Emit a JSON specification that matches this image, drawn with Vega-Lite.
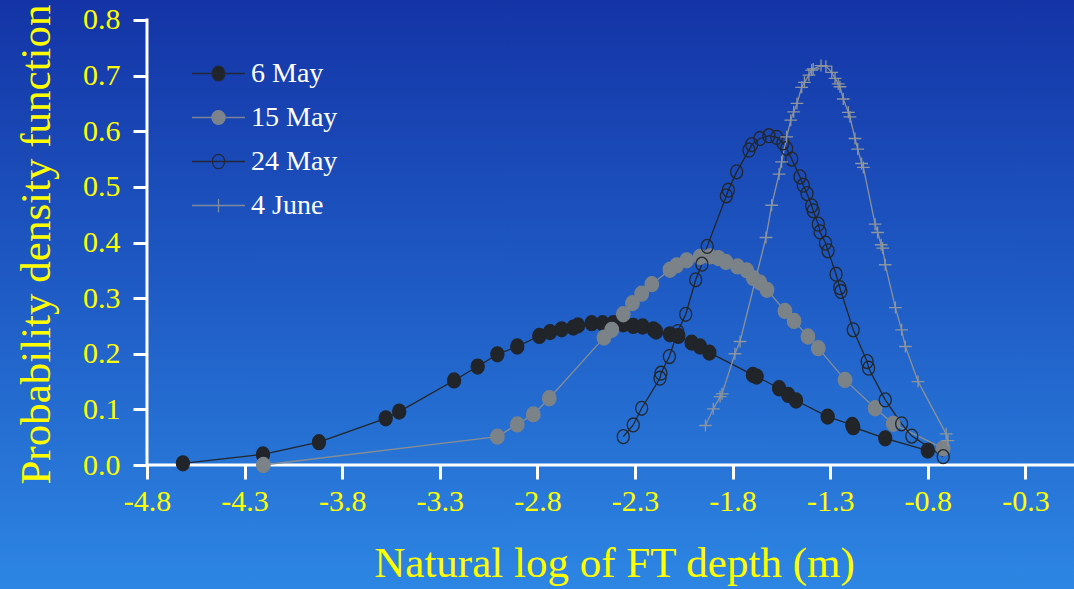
{
  "$schema": "https://vega.github.io/schema/vega-lite/v6.json",
  "width": 1074,
  "height": 589,
  "autosize": "none",
  "padding": 0,
  "background": "#2260c6",
  "config": {
    "view": {"stroke": null},
    "font": "Liberation Serif",
    "axis": {
      "grid": false,
      "domain": false
    },
    "legend": {"padding": 0}
  },
  "data": {
    "values": [
      {"series": "6 May", "x": -4.616, "y": 0.003},
      {"series": "6 May", "x": -4.206, "y": 0.019},
      {"series": "6 May", "x": -3.919, "y": 0.041},
      {"series": "6 May", "x": -3.577, "y": 0.084},
      {"series": "6 May", "x": -3.508, "y": 0.096},
      {"series": "6 May", "x": -3.227, "y": 0.152},
      {"series": "6 May", "x": -3.106, "y": 0.177},
      {"series": "6 May", "x": -3.005, "y": 0.199},
      {"series": "6 May", "x": -2.903, "y": 0.213},
      {"series": "6 May", "x": -2.79, "y": 0.232},
      {"series": "6 May", "x": -2.735, "y": 0.239},
      {"series": "6 May", "x": -2.676, "y": 0.244},
      {"series": "6 May", "x": -2.616, "y": 0.247},
      {"series": "6 May", "x": -2.592, "y": 0.251},
      {"series": "6 May", "x": -2.522, "y": 0.255},
      {"series": "6 May", "x": -2.466, "y": 0.255},
      {"series": "6 May", "x": -2.411, "y": 0.255},
      {"series": "6 May", "x": -2.36, "y": 0.253},
      {"series": "6 May", "x": -2.309, "y": 0.25},
      {"series": "6 May", "x": -2.261, "y": 0.249},
      {"series": "6 May", "x": -2.206, "y": 0.244},
      {"series": "6 May", "x": -2.192, "y": 0.24},
      {"series": "6 May", "x": -2.121, "y": 0.235},
      {"series": "6 May", "x": -2.078, "y": 0.232},
      {"series": "6 May", "x": -2.01, "y": 0.22},
      {"series": "6 May", "x": -1.967, "y": 0.213},
      {"series": "6 May", "x": -1.919, "y": 0.202},
      {"series": "6 May", "x": -1.696, "y": 0.162},
      {"series": "6 May", "x": -1.677, "y": 0.159},
      {"series": "6 May", "x": -1.562, "y": 0.138},
      {"series": "6 May", "x": -1.515, "y": 0.126},
      {"series": "6 May", "x": -1.475, "y": 0.116},
      {"series": "6 May", "x": -1.313, "y": 0.087},
      {"series": "6 May", "x": -1.187, "y": 0.072},
      {"series": "6 May", "x": -1.182, "y": 0.068},
      {"series": "6 May", "x": -1.018, "y": 0.048},
      {"series": "6 May", "x": -0.8, "y": 0.026},
      {"series": "15 May", "x": -4.204, "y": 0.0},
      {"series": "15 May", "x": -3.005, "y": 0.051},
      {"series": "15 May", "x": -2.903, "y": 0.073},
      {"series": "15 May", "x": -2.821, "y": 0.091},
      {"series": "15 May", "x": -2.739, "y": 0.12},
      {"series": "15 May", "x": -2.459, "y": 0.229},
      {"series": "15 May", "x": -2.419, "y": 0.243},
      {"series": "15 May", "x": -2.36, "y": 0.271},
      {"series": "15 May", "x": -2.313, "y": 0.291},
      {"series": "15 May", "x": -2.266, "y": 0.308},
      {"series": "15 May", "x": -2.214, "y": 0.325},
      {"series": "15 May", "x": -2.121, "y": 0.351},
      {"series": "15 May", "x": -2.086, "y": 0.359},
      {"series": "15 May", "x": -2.035, "y": 0.368},
      {"series": "15 May", "x": -1.967, "y": 0.374},
      {"series": "15 May", "x": -1.916, "y": 0.375},
      {"series": "15 May", "x": -1.873, "y": 0.372},
      {"series": "15 May", "x": -1.834, "y": 0.365},
      {"series": "15 May", "x": -1.775, "y": 0.357},
      {"series": "15 May", "x": -1.728, "y": 0.35},
      {"series": "15 May", "x": -1.694, "y": 0.336},
      {"series": "15 May", "x": -1.66, "y": 0.328},
      {"series": "15 May", "x": -1.624, "y": 0.315},
      {"series": "15 May", "x": -1.532, "y": 0.277},
      {"series": "15 May", "x": -1.485, "y": 0.259},
      {"series": "15 May", "x": -1.414, "y": 0.231},
      {"series": "15 May", "x": -1.361, "y": 0.21},
      {"series": "15 May", "x": -1.224, "y": 0.153},
      {"series": "15 May", "x": -1.07, "y": 0.102},
      {"series": "15 May", "x": -0.977, "y": 0.074},
      {"series": "15 May", "x": -0.721, "y": 0.03},
      {"series": "24 May", "x": -2.36, "y": 0.051},
      {"series": "24 May", "x": -2.309, "y": 0.072},
      {"series": "24 May", "x": -2.266, "y": 0.102},
      {"series": "24 May", "x": -2.172, "y": 0.156},
      {"series": "24 May", "x": -2.167, "y": 0.165},
      {"series": "24 May", "x": -2.124, "y": 0.195},
      {"series": "24 May", "x": -2.081, "y": 0.24},
      {"series": "24 May", "x": -2.04, "y": 0.271},
      {"series": "24 May", "x": -1.989, "y": 0.333},
      {"series": "24 May", "x": -1.957, "y": 0.361},
      {"series": "24 May", "x": -1.93, "y": 0.393},
      {"series": "24 May", "x": -1.832, "y": 0.484},
      {"series": "24 May", "x": -1.822, "y": 0.494},
      {"series": "24 May", "x": -1.779, "y": 0.527},
      {"series": "24 May", "x": -1.716, "y": 0.566},
      {"series": "24 May", "x": -1.702, "y": 0.576},
      {"series": "24 May", "x": -1.66, "y": 0.587},
      {"series": "24 May", "x": -1.614, "y": 0.592},
      {"series": "24 May", "x": -1.574, "y": 0.589},
      {"series": "24 May", "x": -1.542, "y": 0.579},
      {"series": "24 May", "x": -1.523, "y": 0.569},
      {"series": "24 May", "x": -1.497, "y": 0.55},
      {"series": "24 May", "x": -1.455, "y": 0.518},
      {"series": "24 May", "x": -1.438, "y": 0.503},
      {"series": "24 May", "x": -1.419, "y": 0.488},
      {"series": "24 May", "x": -1.395, "y": 0.466},
      {"series": "24 May", "x": -1.387, "y": 0.457},
      {"series": "24 May", "x": -1.361, "y": 0.433},
      {"series": "24 May", "x": -1.352, "y": 0.419},
      {"series": "24 May", "x": -1.324, "y": 0.399},
      {"series": "24 May", "x": -1.311, "y": 0.385},
      {"series": "24 May", "x": -1.27, "y": 0.343},
      {"series": "24 May", "x": -1.251, "y": 0.319},
      {"series": "24 May", "x": -1.245, "y": 0.312},
      {"series": "24 May", "x": -1.182, "y": 0.243},
      {"series": "24 May", "x": -1.111, "y": 0.186},
      {"series": "24 May", "x": -1.103, "y": 0.174},
      {"series": "24 May", "x": -1.018, "y": 0.117},
      {"series": "24 May", "x": -0.934, "y": 0.074},
      {"series": "24 May", "x": -0.882, "y": 0.052},
      {"series": "24 May", "x": -0.721, "y": 0.015},
      {"series": "4 June", "x": -1.939, "y": 0.071},
      {"series": "4 June", "x": -1.899, "y": 0.101},
      {"series": "4 June", "x": -1.864, "y": 0.123},
      {"series": "4 June", "x": -1.854, "y": 0.128},
      {"series": "4 June", "x": -1.788, "y": 0.2},
      {"series": "4 June", "x": -1.762, "y": 0.222},
      {"series": "4 June", "x": -1.629, "y": 0.409},
      {"series": "4 June", "x": -1.6, "y": 0.467},
      {"series": "4 June", "x": -1.562, "y": 0.523},
      {"series": "4 June", "x": -1.549, "y": 0.545},
      {"series": "4 June", "x": -1.523, "y": 0.59},
      {"series": "4 June", "x": -1.502, "y": 0.62},
      {"series": "4 June", "x": -1.487, "y": 0.635},
      {"series": "4 June", "x": -1.47, "y": 0.65},
      {"series": "4 June", "x": -1.446, "y": 0.679},
      {"series": "4 June", "x": -1.432, "y": 0.688},
      {"series": "4 June", "x": -1.409, "y": 0.701},
      {"series": "4 June", "x": -1.395, "y": 0.71},
      {"series": "4 June", "x": -1.387, "y": 0.712},
      {"series": "4 June", "x": -1.347, "y": 0.718},
      {"series": "4 June", "x": -1.322, "y": 0.717},
      {"series": "4 June", "x": -1.292, "y": 0.706},
      {"series": "4 June", "x": -1.275, "y": 0.695},
      {"series": "4 June", "x": -1.259, "y": 0.685},
      {"series": "4 June", "x": -1.25, "y": 0.68},
      {"series": "4 June", "x": -1.233, "y": 0.658},
      {"series": "4 June", "x": -1.207, "y": 0.634},
      {"series": "4 June", "x": -1.199, "y": 0.626},
      {"series": "4 June", "x": -1.173, "y": 0.587},
      {"series": "4 June", "x": -1.159, "y": 0.568},
      {"series": "4 June", "x": -1.139, "y": 0.542},
      {"series": "4 June", "x": -1.13, "y": 0.535},
      {"series": "4 June", "x": -1.07, "y": 0.433},
      {"series": "4 June", "x": -1.057, "y": 0.418},
      {"series": "4 June", "x": -1.039, "y": 0.396},
      {"series": "4 June", "x": -1.031, "y": 0.39},
      {"series": "4 June", "x": -1.018, "y": 0.36},
      {"series": "4 June", "x": -0.966, "y": 0.283},
      {"series": "4 June", "x": -0.934, "y": 0.243},
      {"series": "4 June", "x": -0.915, "y": 0.213},
      {"series": "4 June", "x": -0.85, "y": 0.15},
      {"series": "4 June", "x": -0.706, "y": 0.056},
      {"series": "4 June", "x": -0.697, "y": 0.044}
    ]
  },
  "resolve": {"scale": {"fill": "independent", "stroke": "independent", "shape": "independent"}},
  "layer": [
    {
      "data": {"values": [{}]},
      "mark": {
        "type": "rect",
        "color": {
          "gradient": "linear",
          "x1": 0, "y1": 0, "x2": 0, "y2": 1,
          "stops": [
            {"offset": 0, "color": "#1434a6"},
            {"offset": 0.5, "color": "#1f5cc5"},
            {"offset": 1, "color": "#2d86e3"}
          ]
        }
      },
      "encoding": {
        "x": {"datum": -5.55307, "type": "quantitative", "scale": {"domain": [-5.55307, -0.05102], "nice": false, "zero": false}},
        "x2": {"datum": -0.05102},
        "y": {"datum": -0.22292, "type": "quantitative", "scale": {"domain": [-0.22292, 0.835955], "nice": false, "zero": false}},
        "y2": {"datum": 0.835955}
      }
    },
    {
      "data": {"values": [{}]},
      "mark": {"type": "rule", "color": "white", "strokeWidth": 3, "strokeCap": "square"},
      "encoding": {
        "x": {"datum": -4.8, "type": "quantitative"},
        "y": {"datum": 0, "type": "quantitative"},
        "y2": {"datum": 0.8}
      }
    },
    {
      "data": {"values": [{}]},
      "mark": {"type": "rule", "color": "white", "strokeWidth": 3},
      "encoding": {
        "x": {"datum": -4.8, "type": "quantitative"},
        "x2": {"datum": -0.05102},
        "y": {"datum": 0, "type": "quantitative"}
      }
    },
    {
      "mark": {"type": "line", "strokeWidth": 1.3},
      "encoding": {
        "x": {
          "field": "x", "type": "quantitative",
          "scale": {"domain": [-5.55307, -0.05102], "nice": false, "zero": false},
          "axis": {
            "orient": "bottom",
            "offset": -124,
            "zindex": 1,
            "grid": false,
            "domain": false,
            "values": [-4.8, -4.3, -3.8, -3.3, -2.8, -2.3, -1.8, -1.3, -0.8, -0.3],
            "labelExpr": "(datum.value < 0 ? '-' : '') + format(abs(datum.value), '.1f')",
            "tickColor": "white",
            "tickWidth": 3,
            "tickSize": 14,
            "labelColor": "#ffff00",
            "labelFont": "Liberation Serif",
            "labelFontSize": 30,
            "labelFlush": false,
            "labelOverlap": false,
            "labelPadding": 7,
            "title": "Natural log of FT depth (m)",
            "titleColor": "#ffff00",
            "titleFont": "Liberation Serif",
            "titleFontWeight": "normal",
            "titleFontSize": 43,
            "titleX": 614,
            "titlePadding": 26
          }
        },
        "y": {
          "field": "y", "type": "quantitative",
          "scale": {"domain": [-0.22292, 0.835955], "nice": false, "zero": false},
          "axis": {
            "orient": "left",
            "offset": -147,
            "zindex": 1,
            "grid": false,
            "domain": false,
            "values": [0, 0.1, 0.2, 0.3, 0.4, 0.5, 0.6, 0.7, 0.8],
            "format": ".1f",
            "tickColor": "white",
            "tickWidth": 3,
            "tickSize": 14,
            "labelColor": "#ffff00",
            "labelFont": "Liberation Serif",
            "labelFontSize": 30,
            "labelFlush": false,
            "labelOverlap": false,
            "labelPadding": 13,
            "title": "Probability density function",
            "titleColor": "#ffff00",
            "titleFont": "Liberation Serif",
            "titleFontWeight": "normal",
            "titleFontSize": 43,
            "titleY": 244,
            "titlePadding": 24
          }
        },
        "stroke": {
          "field": "series", "type": "nominal",
          "scale": {"domain": ["6 May", "15 May", "24 May", "4 June"], "range": ["#222629", "#868e94", "#222629", "#8b9298"]},
          "legend": null
        }
      }
    },
    {
      "mark": {"type": "point", "opacity": 1, "strokeWidth": 1.3, "size": 225},
      "encoding": {
        "x": {"field": "x", "type": "quantitative"},
        "y": {"field": "y", "type": "quantitative"},
        "fill": {
          "field": "series", "type": "nominal",
          "scale": {"domain": ["6 May", "15 May", "24 May", "4 June"], "range": ["#212529", "#7b8389", "transparent", "transparent"]},
          "legend": null
        },
        "stroke": {
          "field": "series", "type": "nominal",
          "scale": {"domain": ["6 May", "15 May", "24 May", "4 June"], "range": ["#212529", "#7b8389", "#23272b", "#8e959b"]},
          "legend": null
        },
        "shape": {
          "field": "series", "type": "nominal",
          "scale": {
            "domain": ["6 May", "15 May", "24 May", "4 June"],
            "range": [
              "M-0.87,0A0.87,1 0 1,1 0.87,0A0.87,1 0 1,1 -0.87,0Z",
              "M-0.9,0A0.9,1 0 1,1 0.9,0A0.9,1 0 1,1 -0.9,0Z",
              "M-0.8,0A0.8,0.93 0 1,1 0.8,0A0.8,0.93 0 1,1 -0.8,0Z",
              "M-0.85,0H0.85M0,-0.8V0.8"
            ]
          },
          "legend": null
        }
      }
    },
    {
      "transform": [{"filter": "false"}],
      "mark": {"type": "point", "opacity": 1, "strokeWidth": 1.3},
      "encoding": {
        "fill": {
          "field": "series", "type": "nominal",
          "scale": {"domain": ["6 May", "15 May", "24 May", "4 June"], "range": ["#212529", "#7b8389", "transparent", "transparent"]}
        },
        "stroke": {
          "field": "series", "type": "nominal",
          "scale": {"domain": ["6 May", "15 May", "24 May", "4 June"], "range": ["#22283a", "#7b8492", "#22283a", "#7f8a9c"]}
        },
        "shape": {
          "field": "series", "type": "nominal",
          "scale": {
            "domain": ["6 May", "15 May", "24 May", "4 June"],
            "range": [
              "M-1,0H1M-0.24,0A0.24,0.28 0 1,1 0.24,0A0.24,0.28 0 1,1 -0.24,0Z",
              "M-1,0H1M-0.25,0A0.25,0.26 0 1,1 0.25,0A0.25,0.26 0 1,1 -0.25,0Z",
              "M-1,0H1M-0.23,0A0.23,0.27 0 1,1 0.23,0A0.23,0.27 0 1,1 -0.23,0Z",
              "M-1,0H1M0,-0.25V0.25"
            ]
          },
          "legend": {
            "orient": "none",
            "legendX": 191,
            "legendY": 46,
            "title": null,
            "padding": 0,
            "symbolSize": 2809,
            "symbolStrokeWidth": 1.3,
            "labelFont": "Liberation Serif",
            "labelFontSize": 28,
            "labelColor": "white",
            "labelOffset": 5,
            "rowPadding": 2
          }
        }
      }
    }
  ]
}
